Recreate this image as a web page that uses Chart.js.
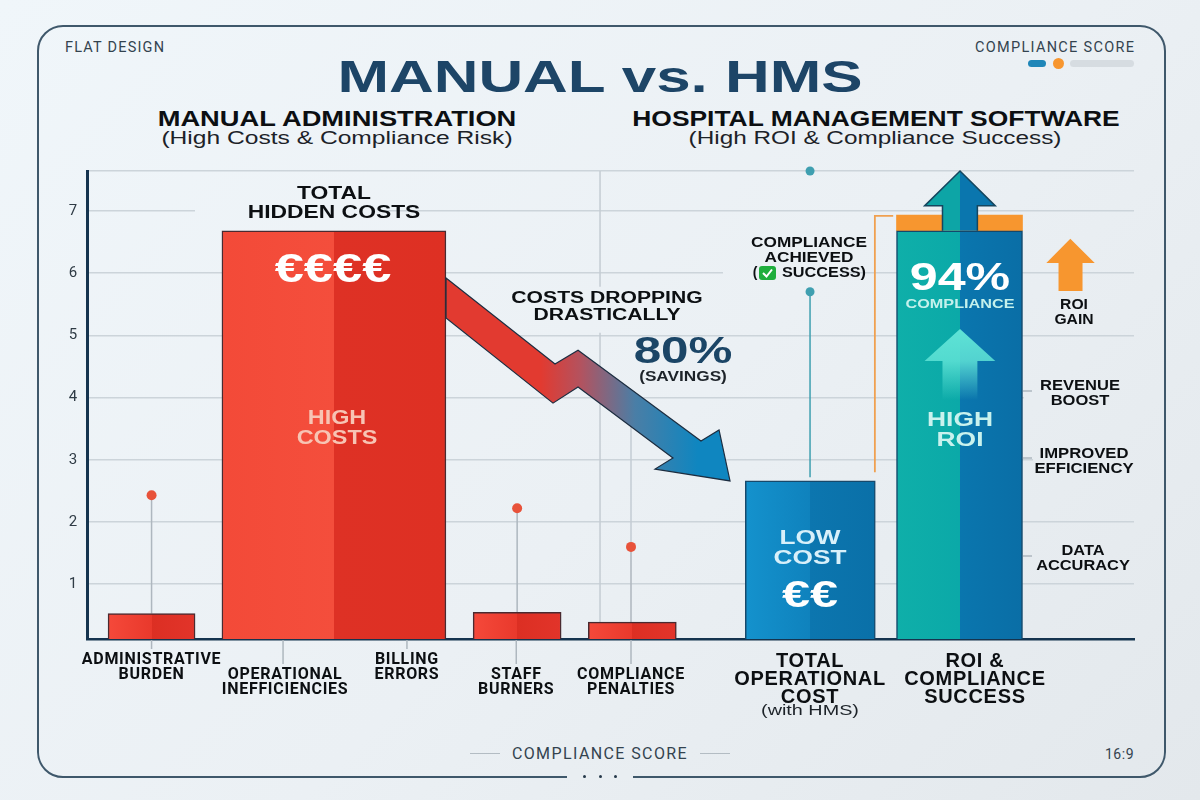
<!DOCTYPE html>
<html>
<head>
<meta charset="utf-8">
<title>Manual vs. HMS</title>
<script src="https://cdn.jsdelivr.net/npm/chart.js@4/dist/chart.umd.min.js"></script>
<style>
    html, body { margin: 0; padding: 0; }
    body {
        width: 1200px;
        height: 800px;
        overflow: hidden;
        position: relative;
        background: linear-gradient(135deg, #f0f6fa 0%, #ebf0f4 55%, #e3e8ec 100%);
        font-family: "Liberation Sans", Arial, sans-serif;
    }
    #panel {
        position: absolute;
        left: 37px;
        top: 25px;
        width: 1125px;
        height: 749px;
        border: 2px solid #3f586b;
        border-radius: 26px;
    }
    #chart { position: absolute; left: 0; top: 0; }
    .txt { position: absolute; white-space: nowrap; line-height: 1; }
    .mid { transform: translateX(-50%); }
    #title {
        left: 600px; top: 54px;
        font-size: 45px; font-weight: bold; color: #1d4567;
        transform: translateX(-50%) scaleX(1.376);
    }
    .head { top: 107.5px; font-size: 22px; font-weight: bold; color: #0c0f12; }
    .sub { top: 130px; font-size: 17.5px; color: #1c2228; }
    .corner { font-family: Roboto, sans-serif; font-size: 14.5px; color: #33434f; }
    .bar-pill { position: absolute; border-radius: 4px; height: 7px; top: 60px; }
    .rule { position: absolute; top: 753px; height: 1px; width: 30px; background: #b3bcc3; }
    #gap { position: absolute; left: 567px; top: 770px; width: 66px; height: 10px; background: #e9eef2; }
    .dot { position: absolute; top: 775px; width: 3px; height: 3px; border-radius: 50%; background: #26394a; }
</style>
</head>
<body>
<div id="panel"></div>
<div id="gap"></div>
<div class="dot" style="left:583px"></div>
<div class="dot" style="left:599px"></div>
<div class="dot" style="left:614px"></div>

<div class="txt corner" style="left:65px;top:41px;letter-spacing:1.2px">FLAT DESIGN</div>
<div class="txt corner" style="left:975px;top:41px;letter-spacing:1.3px">COMPLIANCE SCORE</div>
<div class="bar-pill" style="left:1028px;width:18px;background:#1f86b8"></div>
<div class="bar-pill" style="left:1053px;width:11px;height:11px;top:58px;border-radius:50%;background:#f7962f"></div>
<div class="bar-pill" style="left:1070px;width:64px;background:#d6dce1"></div>

<div class="txt" id="title">MANUAL vs. HMS</div>
<div class="txt head" style="left:337px;transform:translateX(-50%) scaleX(1.24)">MANUAL ADMINISTRATION</div>
<div class="txt sub" style="left:337px;transform:translateX(-50%) scaleX(1.405)">(High Costs &amp; Compliance Risk)</div>
<div class="txt head" style="left:876px;transform:translateX(-50%) scaleX(1.2)">HOSPITAL MANAGEMENT SOFTWARE</div>
<div class="txt sub" style="left:875px;transform:translateX(-50%) scaleX(1.389)">(High ROI &amp; Compliance Success)</div>

<div class="rule" style="left:470px"></div>
<div class="txt mid corner" style="left:600px;top:746px;font-size:16px;letter-spacing:1.4px">COMPLIANCE SCORE</div>
<div class="rule" style="left:700px"></div>
<div class="txt corner" style="right:66px;top:747px;font-size:14px;letter-spacing:.5px">16:9</div>

<canvas id="chart" width="1200" height="800"></canvas>

<script>
// y axis
const yMin = 0.12;
const yMax = 7.64;
const yTicks = [1, 2, 3, 4, 5, 6, 7];

// bars
const barNames = ['Administrative Burden', 'Total Hidden Costs', 'Staff Burners', 'Compliance Penalties', 'Total Operational Cost', 'ROI & Compliance Success'];
const barValues = [0.53, 6.68, 0.55, 0.39, 2.66, 6.68];
const barPositions = [0.74, 2.83, 4.93, 6.25, 8.29, 10.0];
const roiGainTop = 6.93;

// x axis labels, a leading blank line pushes a label down a row
const xTickPositions = [0.74, 2.27, 3.667, 4.92, 6.235, 8.287, 10.177];
const xTickLabels = [
    ['ADMINISTRATIVE', 'BURDEN'],
    ['', 'OPERATIONAL', 'INEFFICIENCIES'],
    ['BILLING', 'ERRORS'],
    ['', 'STAFF', 'BURNERS'],
    ['', 'COMPLIANCE', 'PENALTIES'],
    ['TOTAL', 'OPERATIONAL', 'COST'],
    ['ROI &', 'COMPLIANCE', 'SUCCESS']
];

// pins above the small bars, and the compliance pin over the HMS bar
const pinPositions = [0.74, 4.93, 6.235];
const pinTops = [2.43, 2.22, 1.6];
const compliancePinPosition = 8.287;
const compliancePinTop = 5.70;
const compliancePinBottom = 2.72;
const topDotValue = 7.64;

const xUnit = { min: 0, max: 12 };
const barPixelWidths = [87, 224, 88, 88, 130, 126];
const barTones = [
    ['#f5493a', '#e9392c', '#dc2f23', '#e2342a'],
    ['#f34a38', '#f44e3c', '#de3125', '#de3023'],
    ['#f5493a', '#e9392c', '#dc2f23', '#e2342a'],
    ['#f5493a', '#e9392c', '#dc2f23', '#e2342a'],
    ['#1492cd', '#0f82bd', '#0c76af', '#0a70a8'],
    ['#0fafa9', '#0ba9a8', '#0a76ae', '#0a6ea6']
];
const barEdges = ['#4a2a30', '#4a2a30', '#4a2a30', '#4a2a30', '#17496b', '#14486b'];

const NAVY = '#15344f';
const GRID = '#ccd4da';
const BOLD_SANS = '"Liberation Sans", Arial, sans-serif';

function splitFill(context, index) {
    const { chart } = context;
    if (!chart.chartArea) return barTones[index][0];
    const center = chart.scales.x.getPixelForValue(barPositions[index]);
    const half = barPixelWidths[index] / 2;
    const [a, b, c, d] = barTones[index];
    const g = chart.ctx.createLinearGradient(center - half, 0, center + half, 0);
    g.addColorStop(0, a);
    g.addColorStop(0.5, b);
    g.addColorStop(0.5, c);
    g.addColorStop(1, d);
    return g;
}

const barDatasets = barValues.map((value, i) => ({
    type: 'bar',
    label: barNames[i],
    data: [{ x: barPositions[i], y: value }],
    barThickness: barPixelWidths[i],
    grouped: false,
    backgroundColor: ctx => splitFill(ctx, i),
    borderColor: barEdges[i],
    borderWidth: 1.5,
    borderSkipped: 'bottom',
    order: 2
}));

const capDataset = {
    type: 'bar',
    label: 'ROI gain',
    data: [{ x: barPositions[5], y: [barValues[5], roiGainTop] }],
    barThickness: barPixelWidths[5],
    grouped: false,
    backgroundColor: '#f7962f',
    borderWidth: 0,
    order: 2
};

function lineSet(points, color, width, radius) {
    return {
        type: 'line',
        data: points.map(([x, y]) => ({ x, y })),
        borderColor: color,
        backgroundColor: color,
        borderWidth: width,
        pointRadius: ctx => (ctx.dataIndex === 0 ? radius : 0),
        pointBorderWidth: 0,
        clip: false,
        tension: 0,
        order: 3
    };
}

const pinDatasets = pinPositions.map((x, i) =>
    lineSet([[x, pinTops[i]], [x, [barValues[0], barValues[2], barValues[3]][i]]], '#aeb7bf', 1.5, 5));
pinDatasets.forEach(d => { d.pointBackgroundColor = '#e8523a'; });

const lineDatasets = [
    ...pinDatasets,
    lineSet([[5.88, yMax], [5.88, 5.78]], '#c4ccd3', 1.5, 0),
    lineSet([[5.88, 5.04], [5.88, barValues[3]]], '#c4ccd3', 1.5, 0),
    lineSet([[6.235, 3.6], [6.235, pinTops[2]]], '#c4ccd3', 1.5, 0),
    lineSet([[compliancePinPosition, compliancePinTop], [compliancePinPosition, compliancePinBottom]], '#3f9fb0', 1.5, 4.5),
    lineSet([[compliancePinPosition, topDotValue], [compliancePinPosition, topDotValue]], '#3f9fb0', 0, 4.5),
    lineSet([[9.24, 6.92], [9.03, 6.92], [9.03, 2.8]], '#f0a050', 1.8, 0)
];

// arrow outlines, in axis units
const savingsArrow = [[4.115, 5.92], [5.364, 4.54], [5.628, 4.76], [7.037, 3.30], [7.244, 3.48], [7.37, 2.66],
    [6.51, 2.85], [6.716, 3.03], [5.628, 4.17], [5.341, 3.91], [4.115, 5.28]];
const roiArrow = [[9.805, 6.68], [9.805, 7.08], [9.6, 7.08], [10.006, 7.64], [10.41, 7.08], [10.205, 7.08], [10.205, 6.68]];
const innerArrow = [[9.805, 3.96], [9.805, 4.587], [9.6, 4.587], [10.006, 5.10], [10.41, 4.587], [10.205, 4.587], [10.205, 3.96]];
const gainArrow = [[11.135, 5.71], [11.135, 6.163], [10.995, 6.163], [11.27, 6.55], [11.55, 6.163], [11.41, 6.163], [11.41, 5.71]];

// texts placed around the marks: lines, center x, first baseline middle, line step, font, colour, x stretch
const overlayTexts = [
    [['TOTAL', 'HIDDEN COSTS'], 334, 194, 19, `bold 18px ${BOLD_SANS}`, '#0c0f12', 1.27],
    [['€€€€'], 333, 271, 0, `bold 40px ${BOLD_SANS}`, '#ffffff', 1.31],
    [['HIGH', 'COSTS'], 337, 418, 20, `bold 20px ${BOLD_SANS}`, '#f7c4b4', 1.17],
    [['LOW', 'COST'], 810, 538, 20, `bold 20px ${BOLD_SANS}`, '#d8f0fa', 1.31],
    [['€€'], 810, 597, 0, `bold 36px ${BOLD_SANS}`, '#ffffff', 1.4],
    [['94%'], 960, 280, 0, `bold 38px ${BOLD_SANS}`, '#ffffff', 1.32],
    [['COMPLIANCE'], 960, 304, 0, `bold 13.5px ${BOLD_SANS}`, '#c4f1ec', 1.2],
    [['HIGH', 'ROI'], 960, 420, 20, `bold 20px ${BOLD_SANS}`, '#c9f2ee', 1.32],
    [['COSTS DROPPING', 'DRASTICALLY'], 607, 299, 17, `bold 16px ${BOLD_SANS}`, '#0c0f12', 1.32],
    [['80%'], 683, 353, 0, `bold 36px ${BOLD_SANS}`, '#1b4566', 1.37],
    [['(SAVINGS)'], 683, 377, 0, `bold 14px ${BOLD_SANS}`, '#1c2228', 1.23],
    [['COMPLIANCE', 'ACHIEVED'], 809, 243, 15, `bold 14px ${BOLD_SANS}`, '#0c0f12', 1.23],
    [['SUCCESS)'], 824, 273, 0, `bold 14px ${BOLD_SANS}`, '#0c0f12', 1.16],
    [['('], 755, 273, 0, `bold 14px ${BOLD_SANS}`, '#0c0f12', 1],
    [['ROI', 'GAIN'], 1074, 305, 15, `bold 14.5px ${BOLD_SANS}`, '#0c0f12', 1.08],
    [['REVENUE', 'BOOST'], 1080, 386, 15, `bold 14px ${BOLD_SANS}`, '#0c0f12', 1.18],
    [['IMPROVED', 'EFFICIENCY'], 1084, 454, 15, `bold 14px ${BOLD_SANS}`, '#0c0f12', 1.19],
    [['DATA', 'ACCURACY'], 1083, 551, 15, `bold 14px ${BOLD_SANS}`, '#0c0f12', 1.17],
    [['(with HMS)'], 810, 711, 0, `15px ${BOLD_SANS}`, '#1c2228', 1.32]
];

function tracePolygon(chart, points, close) {
    const { x, y } = chart.scales;
    const ctx = chart.ctx;
    ctx.beginPath();
    points.forEach(([px, py], i) => {
        const sx = x.getPixelForValue(px);
        const sy = y.getPixelForValue(py);
        if (i === 0) ctx.moveTo(sx, sy); else ctx.lineTo(sx, sy);
    });
    if (close) ctx.closePath();
}

const overlayPlugin = {
    id: 'overlay',
    // axis labels run a little wider than the font does
    beforeDraw(chart) {
        chart.ctx.letterSpacing = '0.7px';
    },
    // gaps in the grid behind text blocks, and stubs under the axis
    beforeDatasetsDraw(chart) {
        const ctx = chart.ctx;
        ctx.letterSpacing = '0px';
        ctx.save();
        ctx.clearRect(195, 205, 188, 12);
        ctx.clearRect(723, 264, 119, 12);
        ctx.clearRect(1024, 391, 111, 12);
        ctx.clearRect(1033, 452, 102, 12);
        const { x } = chart.scales;
        ctx.strokeStyle = '#aeb7bf';
        ctx.lineWidth = 1.5;
        const stubs = [[0, 649], [1, 664], [2, 649], [3, 664], [4, 664]];
        stubs.forEach(([i, end]) => {
            const sx = x.getPixelForValue(xTickPositions[i]) - (i === 1 ? 2 : 0);
            ctx.beginPath();
            ctx.moveTo(sx, 640);
            ctx.lineTo(sx, end);
            ctx.stroke();
        });
        [391, 458, 556].forEach(py => {
            ctx.beginPath();
            ctx.moveTo(1023, py);
            ctx.lineTo(1032, py);
            ctx.stroke();
        });
        ctx.restore();
    },
    afterDatasetsDraw(chart) {
        const ctx = chart.ctx;
        const { x, y } = chart.scales;
        ctx.save();

        // falling cost arrow
        const fall = ctx.createLinearGradient(x.getPixelForValue(5.2), 0, x.getPixelForValue(7.0), 0);
        fall.addColorStop(0, '#e23a30');
        fall.addColorStop(0.25, '#b4525e');
        fall.addColorStop(0.6, '#4a7ea6');
        fall.addColorStop(1, '#0f86c0');
        tracePolygon(chart, savingsArrow, true);
        ctx.fillStyle = fall;
        ctx.fill();
        ctx.strokeStyle = '#1c2d40';
        ctx.lineWidth = 1.2;
        ctx.stroke();

        // upward ROI arrow, split like its bar
        const cx = x.getPixelForValue(10.006);
        const split = ctx.createLinearGradient(cx - 40, 0, cx + 40, 0);
        split.addColorStop(0, '#0da5a6');
        split.addColorStop(0.5, '#0da5a6');
        split.addColorStop(0.5, '#0a76ae');
        split.addColorStop(1, '#0a76ae');
        tracePolygon(chart, roiArrow, true);
        ctx.fillStyle = split;
        ctx.fill();
        tracePolygon(chart, roiArrow, false);
        ctx.strokeStyle = '#15465f';
        ctx.lineWidth = 1.5;
        ctx.stroke();

        // pale arrow inside the ROI bar
        const glow = ctx.createLinearGradient(0, y.getPixelForValue(5.1), 0, y.getPixelForValue(3.96));
        glow.addColorStop(0, '#5fe3d6');
        glow.addColorStop(0.45, 'rgba(95,227,214,0.85)');
        glow.addColorStop(1, 'rgba(95,227,214,0)');
        tracePolygon(chart, innerArrow, true);
        ctx.fillStyle = glow;
        ctx.fill();

        // ROI gain arrow
        tracePolygon(chart, gainArrow, true);
        ctx.fillStyle = '#f7962f';
        ctx.fill();

        // check badge
        ctx.fillStyle = '#1fae3d';
        ctx.beginPath();
        ctx.roundRect(759, 266, 17, 14, 3);
        ctx.fill();
        ctx.strokeStyle = '#ffffff';
        ctx.lineWidth = 2;
        ctx.beginPath();
        ctx.moveTo(763, 273);
        ctx.lineTo(766.5, 276.5);
        ctx.lineTo(772, 269.5);
        ctx.stroke();

        ctx.textAlign = 'center';
        ctx.textBaseline = 'middle';
        overlayTexts.forEach(([lines, tx, ty, step, font, color, stretch]) => {
            ctx.font = font;
            ctx.fillStyle = color;
            lines.forEach((line, i) => {
                ctx.save();
                ctx.translate(tx, ty + i * step);
                ctx.scale(stretch, 1);
                ctx.fillText(line, 0, 0);
                ctx.restore();
            });
        });
        ctx.restore();
    }
};

new Chart(document.getElementById('chart').getContext('2d'), {
    data: {
        datasets: [...lineDatasets, ...barDatasets, capDataset]
    },
    options: {
        responsive: false,
        animation: false,
        layout: { padding: { top: 171, right: 66, left: 0, bottom: 0 } },
        plugins: {
            legend: { display: false },
            title: { display: false },
            tooltip: { enabled: false }
        },
        scales: {
            x: {
                type: 'linear',
                offset: false,
                bounds: 'data',
                min: xUnit.min,
                max: xUnit.max,
                grid: { display: false, drawTicks: false },
                border: { color: NAVY, width: 2.5 },
                afterBuildTicks: axis => {
                    axis.ticks = xTickPositions.map(value => ({ value }));
                },
                afterFit: axis => {
                    axis.height = 161;
                },
                ticks: {
                    autoSkip: false,
                    maxRotation: 0,
                    minRotation: 0,
                    padding: 13,
                    color: '#0c0f12',
                    callback: (value, index) => xTickLabels[index],
                    font: ctx => (ctx.index > 4
                        ? { family: BOLD_SANS, size: 20, weight: 'bold', lineHeight: 0.9 }
                        : { family: 'Roboto', size: 16, weight: 'bold', lineHeight: 0.94 })
                }
            },
            y: {
                type: 'linear',
                bounds: 'data',
                min: yMin,
                max: yMax,
                grid: { color: GRID, lineWidth: 1.5, drawTicks: false },
                border: { color: NAVY, width: 3 },
                afterBuildTicks: axis => {
                    axis.ticks = [...yTicks, yMax].map(value => ({ value }));
                },
                afterFit: axis => {
                    axis.width = 87;
                },
                ticks: {
                    padding: 9,
                    color: '#2f3b45',
                    font: { family: 'Roboto', size: 15 },
                    callback: value => (yTicks.includes(value) ? String(value) : '')
                }
            }
        }
    },
    plugins: [overlayPlugin]
});
</script>
</body>
</html>
